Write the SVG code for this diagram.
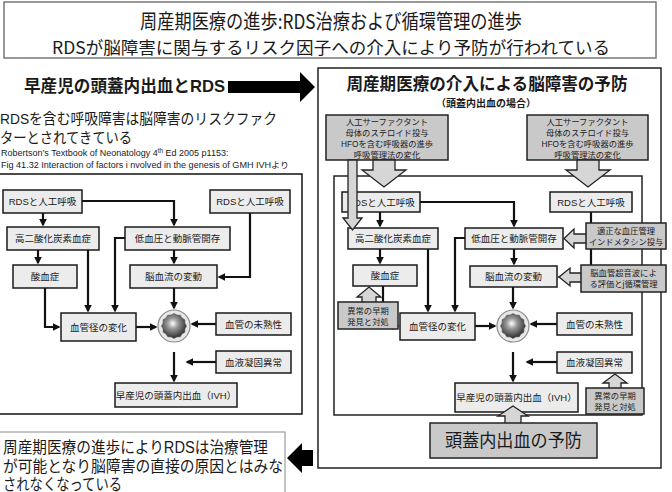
<svg xmlns="http://www.w3.org/2000/svg" xmlns:xlink="http://www.w3.org/1999/xlink" width="672" height="492" viewBox="0 0 672 492">
<style>
text{font-family:"Liberation Sans","Noto Sans CJK JP",sans-serif;fill:#1a1a1a}
.jp{font-family:"Noto Sans CJK JP",sans-serif}
.nb{fill:#ececec;stroke:#1a1a1a;stroke-width:1.5}
.gb{fill:#c9c9c9;stroke:#222;stroke-width:1.5}
.ga{fill:#d6d6d6;stroke:#222;stroke-width:1.3;stroke-linejoin:miter}
.t{font-size:9.5px;text-anchor:middle}
.g{font-size:8.3px;text-anchor:middle}
.cn path{fill:none;stroke:#111;stroke-width:2.2;marker-end:url(#ah)}
.frame{fill:#fff;stroke:#222;stroke-width:1.5}
</style>
<defs>
<marker id="ah" viewBox="0 0 10 10" refX="8" refY="5" markerWidth="8" markerHeight="8" markerUnits="userSpaceOnUse" orient="auto"><path d="M0,0 L10,5 L0,10 z" fill="#111"/></marker>
<radialGradient id="sg" cx="0.45" cy="0.4" r="0.6"><stop offset="0" stop-color="#ffffff"/><stop offset="0.35" stop-color="#9a9a9a"/><stop offset="1" stop-color="#2a2a2a"/></radialGradient>
<g id="sphere">
<circle r="16" fill="#e8e8e8" stroke="#8a8a8a" stroke-width="1.2"/>
<polygon fill="url(#sg)" stroke="#555" stroke-width="0.6" points="12.5,0 10.92,2.93 10.83,6.25 7.99,7.99 6.25,10.83 2.93,10.92 0,12.5 -2.93,10.92 -6.25,10.83 -7.99,7.99 -10.83,6.25 -10.92,2.93 -12.5,0 -10.92,-2.93 -10.83,-6.25 -7.99,-7.99 -6.25,-10.83 -2.93,-10.92 0,-12.5 2.93,-10.92 6.25,-10.83 7.99,-7.99 10.83,-6.25 10.92,-2.93"/>
</g>
</defs>
<rect width="672" height="492" fill="#fff"/>

<g id="header">
<rect x="4" y="2" width="652" height="56" fill="#fff" stroke="#777" stroke-width="1.5"/>
<text class="jp" x="331" y="29" font-size="20" text-anchor="middle" textLength="382" lengthAdjust="spacingAndGlyphs">周産期医療の進歩:RDS治療および循環管理の進歩</text>
<text class="jp" x="331" y="54" font-size="17" text-anchor="middle" textLength="558" lengthAdjust="spacingAndGlyphs">RDSが脳障害に関与するリスク因子への介入により予防が行われている</text>
</g>

<g id="left-heading">
<text x="24" y="92" font-size="17" font-weight="bold" textLength="201" lengthAdjust="spacingAndGlyphs">早産児の頭蓋内出血とRDS</text>
<polygon points="228,81 300,81 300,72 315,87 300,102 300,93 228,93" fill="#000"/>
<text x="0" y="124" font-size="15" textLength="277" lengthAdjust="spacingAndGlyphs">RDSを含む呼吸障害は脳障害のリスクファク</text>
<text x="0" y="143" font-size="15" textLength="132" lengthAdjust="spacingAndGlyphs">ターとされてきている</text>
<text x="1" y="156" font-size="9">Robertson’s Textbook of Neonatology 4<tspan font-size="6.3" dy="-3">th</tspan><tspan dy="3"> Ed 2005 p1153:</tspan></text>
<text x="1" y="168" font-size="8.5" textLength="288" lengthAdjust="spacingAndGlyphs">Fig 41.32 Interaction of factors i nvolved in the genesis of GMH IVHより</text>
</g>

<g id="left-diagram">
<rect x="-1" y="174" width="303" height="240" fill="#fff" stroke="#111" stroke-width="1.5"/>
</g>

<g id="left-connectors" class="cn">
<path d="M43,213 V225"/>
<path d="M82,201 H174 V225"/>
<path d="M38,250 V263"/>
<path d="M88,250 V311"/>
<path d="M125,238 H115 V311"/>
<path d="M174,250 V263"/>
<path d="M250,213 V277 H219"/>
<path d="M174,288 V308"/>
<path d="M45,288 V327 H59"/>
<path d="M136,327 H156"/>
<path d="M216,324 H192"/>
<path d="M216,362 H187"/>
<path d="M174,352 V381"/>
</g>

<g id="l-rds1"><rect class="nb" x="3" y="190" width="79" height="23"/><text class="t" x="42.5" y="205">RDSと人工呼吸</text></g>
<g id="l-rds2"><rect class="nb" x="210" y="190" width="80" height="23"/><text class="t" x="250" y="205">RDSと人工呼吸</text></g>
<g id="l-hyper"><rect class="nb" x="7" y="227" width="92" height="23"/><text class="t" x="53" y="242">高二酸化炭素血症</text></g>
<g id="l-hypo"><rect class="nb" x="125" y="227" width="105" height="23"/><text class="t" x="177.5" y="242">低血圧と動脈管開存</text></g>
<g id="l-acid"><rect class="nb" x="13" y="265" width="64" height="23"/><text class="t" x="45" y="280">酸血症</text></g>
<g id="l-flow"><rect class="nb" x="130" y="265" width="87" height="23"/><text class="t" x="173.5" y="280">脳血流の変動</text></g>
<g id="l-diam"><rect class="nb" x="61" y="313" width="75" height="28"/><text class="t" x="98.5" y="330.5">血管径の変化</text></g>
<g id="l-sphere"><use xlink:href="#sphere" href="#sphere" x="174" y="326"/></g>
<g id="l-immat"><rect class="nb" x="216" y="313" width="75" height="22"/><text class="t" x="253.5" y="327.5">血管の未熟性</text></g>
<g id="l-coag"><rect class="nb" x="216" y="351" width="75" height="22"/><text class="t" x="253.5" y="365.5">血液凝固異常</text></g>
<g id="l-ivh"><rect class="nb" x="115" y="383" width="122" height="24"/><text class="t" x="176" y="398.5">早産児の頭蓋内出血（IVH）</text></g>

<g id="conclusion">
<rect x="-1" y="432" width="286" height="62" fill="#fff" stroke="#888" stroke-width="1"/>
<text x="3" y="453" font-size="16" textLength="265" lengthAdjust="spacingAndGlyphs">周産期医療の進歩によりRDSは治療管理</text>
<text x="3" y="472" font-size="16" textLength="280" lengthAdjust="spacingAndGlyphs">が可能となり脳障害の直接の原因とはみな</text>
<text x="3" y="490" font-size="16" textLength="119" lengthAdjust="spacingAndGlyphs">されなくなっている</text>
<polygon points="313,450 302,450 302,443 287,458 302,473 302,466 313,466" fill="#000"/>
</g>

<g id="right-panel">
<rect class="frame" x="318" y="68" width="343" height="400"/>
<text class="jp" x="487" y="90" font-size="17" font-weight="bold" text-anchor="middle" textLength="281" lengthAdjust="spacingAndGlyphs">周産期医療の介入による脳障害の予防</text>
<text class="jp" x="486" y="107" font-size="10" font-weight="bold" text-anchor="middle">（頭蓋内出血の場合）</text>
<rect x="334" y="176" width="308" height="239" fill="none" stroke="#222" stroke-width="1.5"/>
</g>

<g id="right-connectors" class="cn">
<path d="M380,212 V226"/>
<path d="M420,202 H514 V226"/>
<path d="M380,249 V263"/>
<path d="M428,249 V311"/>
<path d="M465,238 H455 V311"/>
<path d="M514,249 V264"/>
<path d="M591,212 V277 H559"/>
<path d="M513,287 V308"/>
<path d="M383,286 V326 H398"/>
<path d="M475,326 H495"/>
<path d="M557,324 H531"/>
<path d="M557,362 H527"/>
<path d="M513,352 V381"/>
</g>

<g id="r-rds1"><rect class="nb" x="342" y="192" width="78" height="20"/><text class="t" x="381" y="205.5">RDSと人工呼吸</text></g>
<g id="r-rds2"><rect class="nb" x="550" y="192" width="82" height="20"/><text class="t" x="591" y="205.5">RDSと人工呼吸</text></g>
<g id="r-hyper"><rect class="nb" x="348" y="228" width="90" height="21"/><text class="t" x="393" y="242">高二酸化炭素血症</text></g>
<g id="r-hypo"><rect class="nb" x="465" y="228" width="98" height="21"/><text class="t" x="514" y="242">低血圧と動脈管開存</text></g>
<g id="r-acid"><rect class="nb" x="353" y="265" width="64" height="21"/><text class="t" x="385" y="279">酸血症</text></g>
<g id="r-flow"><rect class="nb" x="470" y="266" width="87" height="21"/><text class="t" x="513.5" y="280">脳血流の変動</text></g>
<g id="r-diam"><rect class="nb" x="400" y="313" width="75" height="27"/><text class="t" x="437.5" y="330">血管径の変化</text></g>
<g id="r-sphere"><use xlink:href="#sphere" href="#sphere" x="513" y="326"/></g>
<g id="r-immat"><rect class="nb" x="557" y="313" width="75" height="22"/><text class="t" x="594.5" y="327.5">血管の未熟性</text></g>
<g id="r-coag"><rect class="nb" x="557" y="352" width="75" height="21"/><text class="t" x="594.5" y="366">血液凝固異常</text></g>
<g id="r-ivh"><rect class="nb" x="455" y="383" width="123" height="29"/><text class="t" x="516.5" y="401">早産児の頭蓋内出血（IVH）</text></g>

<g id="r-int-top-left">
<rect class="gb" x="326" y="115" width="122" height="45"/>
<text class="g" x="387" y="125">人工サーファクタント</text>
<text class="g" x="387" y="136">母体のステロイド投与</text>
<text class="g" x="387" y="147">HFOを含む呼吸器の進歩</text>
<text class="g" x="387" y="158">呼吸管理法の変化</text>
<polygon class="ga" points="373,160 395,160 395,170 406,170 384,187 362,170 373,170"/>
<polygon class="ga" points="348,160 357,160 357,218 362,218 352.5,230 343,218 348,218"/>
</g>
<g id="r-int-top-right">
<rect class="gb" x="527" y="115" width="121" height="45"/>
<text class="g" x="587.5" y="125">人工サーファクタント</text>
<text class="g" x="587.5" y="136">母体のステロイド投与</text>
<text class="g" x="587.5" y="147">HFOを含む呼吸器の進歩</text>
<text class="g" x="587.5" y="158">呼吸管理法の変化</text>
<polygon class="ga" points="577,160 599,160 599,170 610,170 588,187 566,170 577,170"/>
</g>
<g id="r-int-bp">
<polygon class="ga" points="587,234 574,234 574,229 564,238.5 574,248 574,243 587,243"/>
<rect class="gb" x="586" y="223" width="80" height="26"/>
<text class="g" x="626" y="234">適正な血圧管理</text>
<text class="g" x="626" y="245">インドメタシン投与</text>
</g>
<g id="r-int-us">
<polygon class="ga" points="582,273 570,273 570,268 559,277 570,286 570,282 582,282"/>
<rect class="gb" x="581" y="265" width="85" height="27"/>
<text class="g" x="623.5" y="276">脳血管超音波によ</text>
<text class="g" x="623.5" y="287">る評価とj循環管理</text>
</g>
<g id="r-int-early-left">
<polygon class="ga" points="362,303 362,297 357,297 369,287 381,297 376,297 376,303"/>
<rect class="gb" x="338" y="302" width="60" height="27"/>
<text class="g" x="368" y="314">異常の早期</text>
<text class="g" x="368" y="325">発見と対処</text>
</g>
<g id="r-int-early-right">
<polygon class="ga" points="609,389 609,383 603,383 615,374 627,383 621,383 621,389"/>
<rect class="gb" x="586" y="388" width="58" height="26"/>
<text class="g" x="615" y="399">異常の早期</text>
<text class="g" x="615" y="410">発見と対処</text>
</g>
<g id="r-prevent">
<polygon class="ga" points="505,424 505,416 498,416 513,406 528,416 521,416 521,424"/>
<rect class="gb" x="430" y="423" width="167" height="35"/>
<text class="jp" x="513.5" y="447" font-size="18" text-anchor="middle" textLength="137" lengthAdjust="spacingAndGlyphs">頭蓋内出血の予防</text>
</g>
</svg>
